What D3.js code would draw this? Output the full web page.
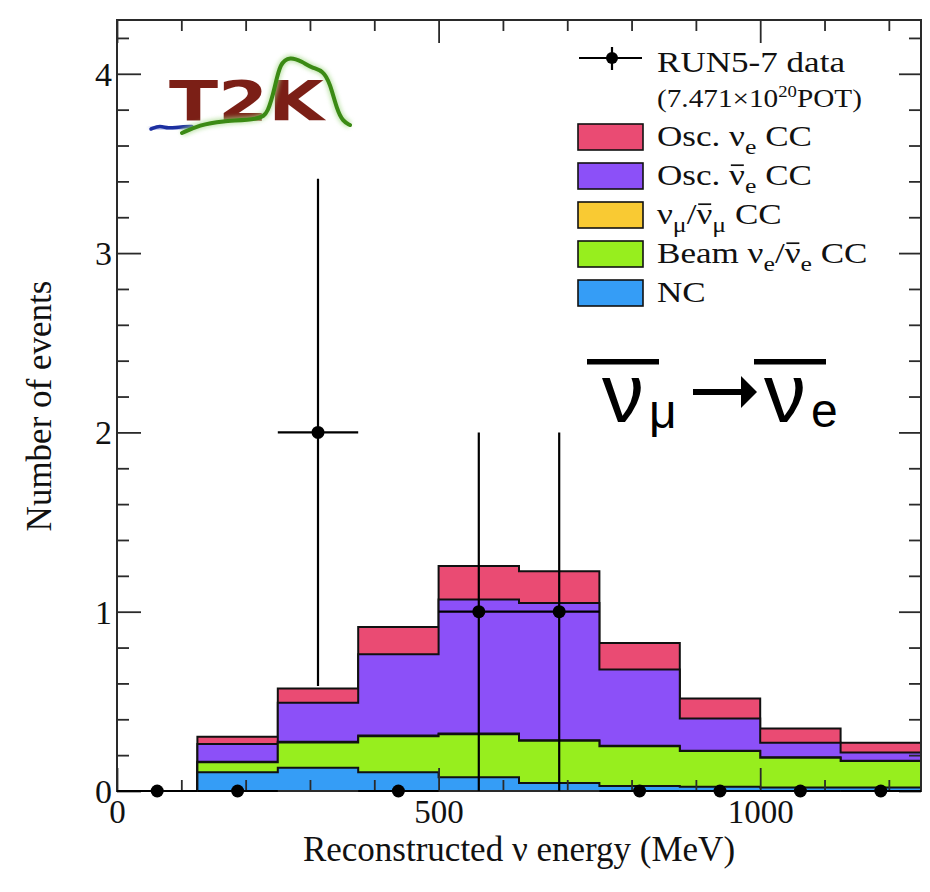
<!DOCTYPE html>
<html>
<head>
<meta charset="utf-8">
<script src="https://cdn.jsdelivr.net/npm/d3@7"></script>
<style>
  body { margin: 0; background: #fff; }
  svg { display: block; }
</style>
</head>
<body>
<svg id="chart" width="930" height="892"></svg>
<script>
// Reconstructed-energy binning (MeV)
const binEdges = [0, 125, 250, 375, 500, 625, 750, 875, 1000, 1125, 1250];

// Expected events per bin, one array per stacked component (bottom to top)
const ncEvents        = [0, 0.104, 0.130, 0.105, 0.076, 0.045, 0.028, 0.024, 0.020, 0.020];
const beamNueEvents   = [0, 0.056, 0.141, 0.200, 0.240, 0.235, 0.222, 0.199, 0.166, 0.147];
const numuEvents      = [0, 0.003, 0.004, 0.004, 0.004, 0.003, 0.003, 0.002, 0.002, 0.002];
const oscNuebarEvents = [0, 0.099, 0.217, 0.454, 0.748, 0.766, 0.425, 0.180, 0.081, 0.046];
const oscNueEvents    = [0, 0.040, 0.080, 0.152, 0.187, 0.176, 0.148, 0.111, 0.080, 0.054];

// Observed events per bin
const dataCounts = [0, 0, 2, 0, 1, 1, 0, 0, 0, 0];

// Axis ticks
const xMajorTicks = [0, 500, 1000];
const xMinorTicks = [100, 200, 300, 400, 600, 700, 800, 900, 1100, 1200];
const yMajorTicks = [0, 1, 2, 3, 4];
const yMinorTicks = [0.2, 0.4, 0.6, 0.8, 1.2, 1.4, 1.6, 1.8, 2.2, 2.4, 2.6, 2.8, 3.2, 3.4, 3.6, 3.8, 4.2];

// Stack component keys, bottom to top
const componentKeys = ["nc", "beam", "numu", "nuebar", "nue"];

// Fill colours per component
const componentColors = {
  nc: "#359df6",
  beam: "#97ee1e",
  numu: "#f9ca33",
  nuebar: "#8c50f8",
  nue: "#ea4b73"
};

const svg = d3.select("#chart");
const W = 930, H = 892;
svg.append("rect").attr("width", W).attr("height", H).attr("fill", "#fff");

const frame = { left: 117, right: 921, top: 20, bottom: 791 };
const x = d3.scaleLinear().domain([0, 1250]).range([frame.left, frame.right]);
const y = d3.scaleLinear().domain([0, 4.3]).range([frame.bottom, frame.top]);

const serif = "'Liberation Serif', 'Times New Roman', serif";
const sans = "'Liberation Sans', Arial, sans-serif";
const ink = "#2a2a2a";

const defs = svg.append("defs");
// Clip for plot contents
defs.append("clipPath").attr("id", "plotClip")
  .append("rect")
  .attr("x", frame.left).attr("y", frame.top)
  .attr("width", frame.right - frame.left)
  .attr("height", frame.bottom - frame.top);

// ---- stacked histogram ----
const rows = dataCounts.map((_, i) => ({
  nc: ncEvents[i],
  beam: beamNueEvents[i],
  numu: numuEvents[i],
  nuebar: oscNuebarEvents[i],
  nue: oscNueEvents[i]
}));
const stacked = d3.stack().keys(componentKeys)(rows);
const nBins = dataCounts.length;

const stepArea = d3.area()
  .curve(d3.curveStepAfter)
  .x(d => x(d[0]))
  .y0(y(0))
  .y1(d => y(d[1]));
const stepLine = d3.line()
  .curve(d3.curveStepAfter)
  .x(d => x(d[0]))
  .y(d => y(d[1]));

const histG = svg.append("g").attr("clip-path", "url(#plotClip)");
// Each cumulative histogram is filled from zero, drawn from the top of the stack down
stacked.slice().reverse().forEach(layer => {
  const pts = binEdges.map((e, i) => [e, layer[Math.min(i, nBins - 1)][1]]);
  histG.append("path")
    .attr("d", stepArea(pts))
    .attr("fill", componentColors[layer.key]);
  histG.append("path")
    .attr("d", stepLine(pts))
    .attr("fill", "none")
    .attr("stroke", "#111")
    .attr("stroke-width", 2);
});

// ---- frame and axes ----
function styleAxis(g) {
  g.select(".domain").remove();
  g.selectAll(".tick line").attr("stroke", ink).attr("stroke-width", 1.8);
  g.attr("font-family", serif).attr("font-size", 34);
  g.selectAll("text").attr("fill", "#111");
}

svg.append("g").attr("transform", `translate(0,${frame.bottom})`)
  .call(d3.axisBottom(x).tickValues(xMajorTicks).tickSize(-23).tickFormat(d3.format("d")))
  .call(styleAxis)
  .call(g => g.selectAll("text").attr("y", 32).attr("dy", 0).attr("font-size", 33));
svg.append("g").attr("transform", `translate(0,${frame.bottom})`)
  .call(d3.axisBottom(x).tickValues(xMinorTicks).tickSize(-11).tickFormat(""))
  .call(styleAxis);
svg.append("g").attr("transform", `translate(0,${frame.top})`)
  .call(d3.axisTop(x).tickValues(xMajorTicks).tickSize(-23).tickFormat(""))
  .call(styleAxis);
svg.append("g").attr("transform", `translate(0,${frame.top})`)
  .call(d3.axisTop(x).tickValues(xMinorTicks).tickSize(-11).tickFormat(""))
  .call(styleAxis);

svg.append("g").attr("transform", `translate(${frame.left},0)`)
  .call(d3.axisLeft(y).tickValues(yMajorTicks).tickSize(-24).tickFormat(d3.format("d")))
  .call(styleAxis)
  .call(g => g.selectAll("text").attr("x", -5).attr("dy", "0.34em"));
svg.append("g").attr("transform", `translate(${frame.left},0)`)
  .call(d3.axisLeft(y).tickValues(yMinorTicks).tickSize(-12).tickFormat(""))
  .call(styleAxis);
svg.append("g").attr("transform", `translate(${frame.right},0)`)
  .call(d3.axisRight(y).tickValues(yMajorTicks).tickSize(-22).tickFormat(""))
  .call(styleAxis);
svg.append("g").attr("transform", `translate(${frame.right},0)`)
  .call(d3.axisRight(y).tickValues(yMinorTicks).tickSize(-12).tickFormat(""))
  .call(styleAxis);

svg.append("rect")
  .attr("x", frame.left).attr("y", frame.top)
  .attr("width", frame.right - frame.left)
  .attr("height", frame.bottom - frame.top)
  .attr("fill", "none")
  .attr("stroke", ink)
  .attr("stroke-width", 2);

// ---- data points with Poisson (sqrt N) errors ----
const dataG = svg.append("g");
dataCounts.forEach((n, i) => {
  const lo = binEdges[i], hi = binEdges[i + 1];
  const cx = x((lo + hi) / 2), cy = y(n);
  dataG.append("line")
    .attr("x1", x(lo)).attr("x2", x(hi))
    .attr("y1", cy).attr("y2", cy)
    .attr("stroke", "#000").attr("stroke-width", 2.2);
  if (n > 0) {
    const err = Math.sqrt(n);
    dataG.append("line")
      .attr("x1", cx).attr("x2", cx)
      .attr("y1", y(n - err)).attr("y2", y(n + err))
      .attr("stroke", "#000").attr("stroke-width", 2.2);
  }
  dataG.append("circle")
    .attr("cx", cx).attr("cy", cy).attr("r", 6.5)
    .attr("fill", "#000");
});

// ---- axis titles ----
svg.append("text")
  .attr("x", 519).attr("y", 861)
  .attr("text-anchor", "middle")
  .attr("font-family", serif).attr("font-size", 35)
  .attr("fill", "#111")
  .text("Reconstructed ν energy (MeV)");

svg.append("text")
  .attr("transform", "translate(51,406) rotate(-90)")
  .attr("text-anchor", "middle")
  .attr("font-family", serif).attr("font-size", 35)
  .attr("fill", "#111")
  .text("Number of events");

// ---- legend ----
const legend = svg.append("g");
const legendX = 578, boxW = 65, boxH = 26, textX = 657, textScale = 1.17;

// data entry
legend.append("line").attr("x1", 579).attr("x2", 642).attr("y1", 58).attr("y2", 58)
  .attr("stroke", "#000").attr("stroke-width", 2.2);
legend.append("line").attr("x1", 612).attr("x2", 612).attr("y1", 47).attr("y2", 70)
  .attr("stroke", "#000").attr("stroke-width", 2.2);
legend.append("circle").attr("cx", 612).attr("cy", 58).attr("r", 6).attr("fill", "#000");

// Text with sub/superscripts; parts flagged `bar` get an overline (antineutrino)
function legendText(yBase, size, parts) {
  const g = legend.append("g")
    .attr("transform", `translate(${textX},${yBase}) scale(${textScale},1)`);
  const t = g.append("text")
    .attr("font-family", serif).attr("font-size", size).attr("fill", "#111");
  let shift = 0;
  parts.forEach(p => {
    const s = t.append("tspan").text(p.t);
    const target = p.dy || 0;
    if (target !== shift) { s.attr("dy", target - shift); shift = target; }
    if (p.size) s.attr("font-size", p.size);
  });
  let idx = 0;
  parts.forEach(p => {
    if (p.bar) {
      const ext = t.node().getExtentOfChar(idx);
      g.append("line")
        .attr("x1", ext.x + 1.5).attr("x2", ext.x + ext.width - 1)
        .attr("y1", -size * 0.66).attr("y2", -size * 0.66)
        .attr("stroke", "#111").attr("stroke-width", 1.7);
    }
    idx += p.t.length;
  });
  return t;
}

legendText(72, 30, [{ t: "RUN5-7 data" }]);
legendText(107, 25, [{ t: "(7.471×10" }, { t: "20", dy: -10, size: 16 }, { t: "POT)", dy: 0 }]);

const legendRows = [
  { key: "nue", y: 124, parts: [{ t: "Osc. " }, { t: "ν" }, { t: "e", dy: 8, size: 22 }, { t: " CC", dy: 0 }] },
  { key: "nuebar", y: 163, parts: [{ t: "Osc. " }, { t: "ν", bar: true }, { t: "e", dy: 8, size: 22 }, { t: " CC", dy: 0 }] },
  { key: "numu", y: 202, parts: [{ t: "ν" }, { t: "μ", dy: 8, size: 22 }, { t: "/", dy: 0 }, { t: "ν", bar: true }, { t: "μ", dy: 8, size: 22 }, { t: " CC", dy: 0 }] },
  { key: "beam", y: 241, parts: [{ t: "Beam " }, { t: "ν" }, { t: "e", dy: 8, size: 22 }, { t: "/", dy: 0 }, { t: "ν", bar: true }, { t: "e", dy: 8, size: 22 }, { t: " CC", dy: 0 }] },
  { key: "nc", y: 280, parts: [{ t: "NC" }] }
];
legendRows.forEach(r => {
  legend.append("rect")
    .attr("x", legendX).attr("y", r.y)
    .attr("width", boxW).attr("height", boxH)
    .attr("fill", componentColors[r.key])
    .attr("stroke", "#111").attr("stroke-width", 1.6);
  legendText(r.y + 22, 30, r.parts);
});

// ---- oscillation channel label ----
const chan = svg.append("g").attr("fill", "#000");
chan.append("text").attr("x", 602).attr("y", 422)
  .attr("font-family", sans).attr("font-size", 84).text("ν");
chan.append("text").attr("x", 649).attr("y", 428)
  .attr("font-family", sans).attr("font-size", 48).text("μ");
chan.append("text").attr("x", 764).attr("y", 422)
  .attr("font-family", sans).attr("font-size", 84).text("ν");
chan.append("text").attr("x", 811).attr("y", 427)
  .attr("font-family", sans).attr("font-size", 48).text("e");
chan.append("rect").attr("x", 587).attr("y", 359).attr("width", 72).attr("height", 5.5);
chan.append("rect").attr("x", 754).attr("y", 359).attr("width", 72).attr("height", 5.5);
chan.append("path").attr("d", "M693,389 L741,389 L741,376 L757,392 L741,408 L741,395 L693,395 Z");

// ---- experiment logo ----
const logo = svg.append("g");
logo.append("rect").attr("x", 143).attr("y", 43).attr("width", 214).attr("height", 107).attr("fill", "#fff");
defs.append("filter").attr("id", "glow").attr("x", "-20%").attr("y", "-20%").attr("width", "140%").attr("height", "140%")
  .append("feGaussianBlur").attr("stdDeviation", 2);
logo.append("text")
  .attr("x", 169).attr("y", 120)
  .attr("font-family", "'DejaVu Sans', sans-serif").attr("font-weight", "bold")
  .attr("font-size", 56)
  .attr("textLength", 155).attr("lengthAdjust", "spacingAndGlyphs")
  .attr("fill", "#7b1f16")
  .text("T2K");
const wave = d3.line().curve(d3.curveBasis);
const bluePts = [[151, 129], [160, 125.5], [168, 128.5], [178, 127], [192, 126.5]];
const greenPts = [[182, 133], [200, 125], [220, 121], [260, 119.5], [268, 113], [275, 87], [280, 63],
  [290, 56.5], [302, 61.5], [312, 68], [323, 70.5], [330, 83], [337, 110], [343, 121.5], [350, 125]];
logo.append("path").attr("d", wave(bluePts)).attr("fill", "none")
  .attr("stroke", "#6f7fd6").attr("stroke-width", 6).attr("filter", "url(#glow)").attr("opacity", 0.6);
logo.append("path").attr("d", wave(bluePts)).attr("fill", "none")
  .attr("stroke", "#1c2fa0").attr("stroke-width", 3.5).attr("stroke-linecap", "round");
logo.append("path").attr("d", wave(greenPts)).attr("fill", "none")
  .attr("stroke", "#a6d98a").attr("stroke-width", 7).attr("filter", "url(#glow)").attr("opacity", 0.7);
logo.append("path").attr("d", wave(greenPts)).attr("fill", "none")
  .attr("stroke", "#3b8a14").attr("stroke-width", 4).attr("stroke-linecap", "round");
</script>
</body>
</html>
